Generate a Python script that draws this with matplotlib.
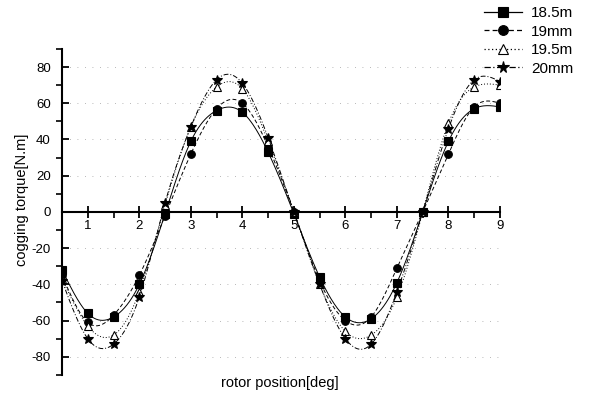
import numpy as np
import matplotlib
matplotlib.use('agg')
import matplotlib.pyplot as plt
from matplotlib.ticker import MultipleLocator

## data
position = [0.5, 1, 1.5, 2, 2.5, 3, 3.5, 4, 4.5, 5, 5.5, 6, 6.5, 7, 7.5, 8, 8.5, 9]
torque_185 = [-32, -56, -58, -40, -1, 39, 56, 55, 33, -1, -36, -58, -59, -39, 0, 39, 57, 58]
torque_19 = [-35, -61, -57, -35, -2, 32, 57, 60, 36, 0, -38, -60, -58, -31, 0, 32, 58, 60]
torque_195 = [-37, -63, -68, -44, 4, 47, 69, 68, 39, 0, -40, -66, -68, -47, 0, 49, 69, 70]
torque_20 = [-38, -70, -73, -47, 5, 47, 73, 71, 41, 0, -40, -70, -73, -44, 0, 46, 73, 72]
labels = ['18.5m', '19mm', '19.5m', '20mm']


def spline(x, y, n=400):
	# natural cubic spline, only used to draw the smooth connecting line
	x = np.asarray(x, float)
	y = np.asarray(y, float)
	m = len(x)
	h = np.diff(x)
	A = np.zeros((m, m))
	b = np.zeros(m)
	A[0, 0] = A[-1, -1] = 1
	for i in range(1, m - 1):
		A[i, i - 1] = h[i - 1]
		A[i, i] = 2 * (h[i - 1] + h[i])
		A[i, i + 1] = h[i]
		b[i] = 3 * ((y[i + 1] - y[i]) / h[i] - (y[i] - y[i - 1]) / h[i - 1])
	c = np.linalg.solve(A, b)
	bb = (y[1:] - y[:-1]) / h - h * (2 * c[:-1] + c[1:]) / 3
	d = (c[1:] - c[:-1]) / (3 * h)
	xs = np.linspace(x[0], x[-1], n)
	k = np.clip(np.searchsorted(x, xs) - 1, 0, m - 2)
	t = xs - x[k]
	ys = y[k] + bb[k] * t + c[k] * t ** 2 + d[k] * t ** 3
	return xs, ys


plt.rcParams['font.family'] = ['Liberation Sans', 'DejaVu Sans']
plt.rcParams['axes.unicode_minus'] = False

fig = plt.figure(figsize=(5.89, 4.01), dpi=100)
ax = fig.add_axes([0.1053, 0.065, 0.7436, 0.813])

styles = [
	dict(marker='s', ls='-', ms=5.5, mfc='k'),
	dict(marker='o', ls=(0, (4, 2.5)), ms=5.5, mfc='k'),
	dict(marker='^', ls=(0, (1, 2)), ms=6, mfc='white'),
	dict(marker='*', ls=(0, (5, 2, 1, 2)), ms=7, mfc='k'),
]
series = [torque_185, torque_19, torque_195, torque_20]

handles = []
for y, st, lab in zip(series, styles, labels):
	xs, ys = spline(position, y)
	ax.plot(xs, ys, color='k', lw=0.7, ls=st['ls'])
	ax.plot(position, y, ls='none', marker=st['marker'], ms=st['ms'],
			mfc=st['mfc'], mec='k', mew=0.8)
	h, = ax.plot([], [], color='k', lw=0.9, ls=st['ls'], marker=st['marker'],
				 ms=st['ms'] + 1.5, mfc=st['mfc'], mec='k', mew=0.8)
	handles.append(h)

ax.set_xlim(0.5, 9)
ax.set_ylim(-90, 90)

ax.spines['top'].set_visible(False)
ax.spines['right'].set_visible(False)
ax.spines['bottom'].set_position(('data', 0))
ax.spines['bottom'].set_linewidth(1.5)
ax.spines['left'].set_linewidth(1.5)

ax.xaxis.set_major_locator(MultipleLocator(1))
ax.xaxis.set_minor_locator(MultipleLocator(0.5))
ax.yaxis.set_major_locator(MultipleLocator(20))
ax.yaxis.set_minor_locator(MultipleLocator(10))
ax.set_xticks([1, 2, 3, 4, 5, 6, 7, 8, 9])
ax.tick_params(axis='x', which='major', direction='inout', length=9, width=1.3, labelsize=9.5, pad=1)
ax.tick_params(axis='x', which='minor', direction='out', length=4, width=1.2)
ax.tick_params(axis='y', which='major', direction='in', length=5, width=1.3, labelsize=9.5, pad=8)
ax.tick_params(axis='y', which='minor', direction='out', length=4, width=1.2)

for yv in [-80, -60, -40, -20, 20, 40, 60, 80]:
	ax.axhline(yv, color='#a0a0a0', lw=0.6, ls=(0, (1, 8)), zorder=0)

fig.text(280 / 589, 1 - 383 / 401, 'rotor position[deg]', ha='center', va='center', fontsize=10.5)
fig.text(22 / 589, 1 - 200 / 401, 'cogging torque[N.m]', ha='center', va='center',
		 rotation=90, fontsize=10.5)

fig.legend(handles, labels, loc='upper left', bbox_to_anchor=(484 / 589, 1 - 6 / 401),
		   frameon=False, fontsize=11, handlelength=2.5, handletextpad=0.6,
		   labelspacing=0.3, borderpad=0, borderaxespad=0)

plt.savefig('out.png', dpi=100)
